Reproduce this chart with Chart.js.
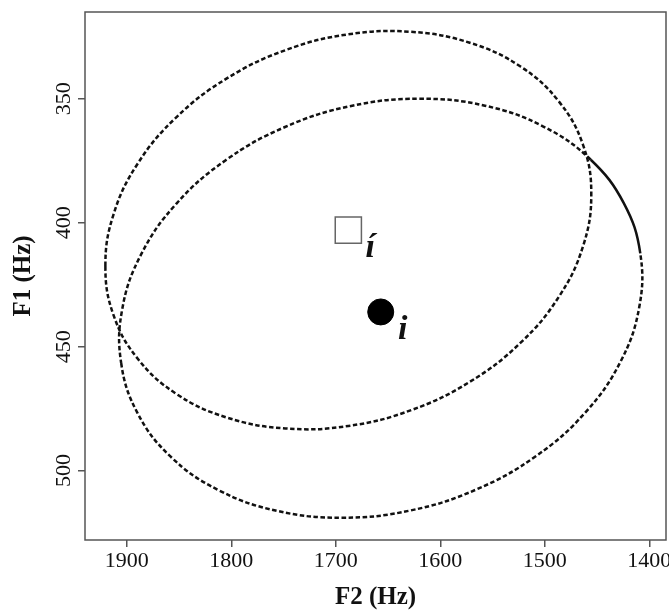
<!DOCTYPE html>
<html>
<head>
<meta charset="utf-8">
<script src="https://cdn.jsdelivr.net/npm/chart.js@4"></script>
<style>
  body { margin: 0; background: #fff; }
</style>
</head>
<body>
<canvas id="c" width="669" height="610"></canvas>
<script>
// axis ticks
const xTicks = [1900, 1800, 1700, 1600, 1500, 1400]
const yTicks = [350, 400, 450, 500]

// vowel means (F2, F1) and their labels
const meanF2 = [1688, 1657]
const meanF1 = [403, 436]
const meanLabels = ['í', 'i']

// ellipse around í (open square).
// first and last points repeat the neighbours of the seam so the curve closes smoothly
const ellAF2 = [1912.6, 1920.5, 1912.6, 1889.3, 1852.4, 1804.3, 1748.2, 1688, 1627.8, 1571.8, 1523.6, 1486.7, 1463.4,
  1455.5, 1463.4, 1486.7, 1523.6, 1571.8, 1627.8, 1688, 1748.2, 1804.3, 1852.4, 1889.3, 1912.6, 1920.5, 1912.6]
const ellAF1 = [396.5, 417.5, 437.4, 455.0, 469.1, 478.6, 483.0, 482.0, 475.6, 464.2, 448.6, 430.0, 409.5,
  388.5, 368.6, 351.0, 336.9, 327.4, 323.0, 324.0, 330.4, 341.8, 357.4, 376.0, 396.5, 417.5, 437.4]

// ellipse around i (filled circle), same layout
const ellBF2 = [1904.3, 1905.4, 1889.6, 1858.0, 1812.6, 1756.7, 1694.0, 1628.7, 1565.4, 1508.3, 1461.3, 1427.7, 1409.7,
  1408.6, 1424.4, 1456.0, 1501.4, 1557.3, 1620.0, 1685.3, 1748.6, 1805.7, 1852.7, 1886.3, 1904.3, 1905.4, 1889.6]
const ellBF1 = [434.7, 456.6, 476.9, 494.4, 507.8, 516.2, 519.0, 516.1, 507.6, 494.1, 476.6, 456.2, 434.3,
  412.4, 392.1, 374.6, 361.2, 352.8, 350.0, 352.9, 361.4, 374.9, 392.4, 412.8, 434.7, 456.6, 476.9]

const pts = (xs, ys) => xs.map((x, i) => ({ x, y: ys[i] }))
const SERIF = '"Liberation Serif", "Times New Roman", serif'
const DASH = [4.5, 2.5]
const INK = '#111'

// hide the two helper segments at the seam
const seamColor = ctx => (ctx.p0DataIndex === 0 || ctx.p1DataIndex === ctx.chart.data.datasets[ctx.datasetIndex].data.length - 1
  ? 'rgba(0,0,0,0)' : undefined)

const frame = {
  id: 'frame',
  afterDraw(chart) {
    const { ctx, chartArea: a, scales } = chart
    ctx.save()
    ctx.strokeStyle = '#555'
    ctx.lineWidth = 1.5
    ctx.strokeRect(a.left, a.top, a.right - a.left, a.bottom - a.top)

    ctx.fillStyle = INK
    ctx.font = '22px ' + SERIF
    ctx.textAlign = 'center'

    // x tick labels
    ctx.textBaseline = 'alphabetic'
    xTicks.forEach(v => ctx.fillText(String(v), scales.x.getPixelForValue(v), 567))

    // y tick labels, rotated
    ctx.textBaseline = 'middle'
    yTicks.forEach(v => {
      ctx.save()
      ctx.translate(64, scales.y.getPixelForValue(v))
      ctx.rotate(-Math.PI / 2)
      ctx.fillText(String(v), 0, 0)
      ctx.restore()
    })

    // axis titles
    ctx.font = 'bold 25px ' + SERIF
    ctx.textBaseline = 'alphabetic'
    ctx.fillText('F2 (Hz)', (a.left + a.right) / 2, 604)
    ctx.save()
    ctx.translate(30, (a.top + a.bottom) / 2)
    ctx.rotate(-Math.PI / 2)
    ctx.fillText('F1 (Hz)', 0, 0)
    ctx.restore()

    // vowel labels next to the means
    ctx.font = 'italic bold 34px ' + SERIF
    meanLabels.forEach((t, i) => {
      const px = scales.x.getPixelForValue(meanF2[i])
      const py = scales.y.getPixelForValue(meanF1[i])
      ctx.fillText(t, px + 22, py + 27)
    })
    ctx.restore()
  }
}

new Chart(document.getElementById('c'), {
  type: 'scatter',
  data: {
    datasets: [
      {
        data: pts(ellAF2, ellAF1), showLine: true, tension: 0.4, pointRadius: 0,
        borderColor: INK, borderWidth: 2.5, borderDash: DASH,
        segment: { borderColor: seamColor }
      },
      {
        data: pts(ellBF2, ellBF1), showLine: true, tension: 0.4, pointRadius: 0,
        borderColor: INK, borderWidth: 2.5, borderDash: DASH,
        // the stretch right of the crossing is drawn solid in the original
        segment: {
          borderColor: seamColor,
          borderDash: ctx => (ctx.p0DataIndex >= 13 && ctx.p0DataIndex < 15 ? [] : undefined)
        }
      },
      {
        data: pts(meanF2, meanF1), showLine: false,
        pointStyle: ['rect', 'circle'], pointRadius: [18.5, 13],
        backgroundColor: ['#fff', '#000'], borderColor: ['#666', '#000'], borderWidth: [1.5, 1]
      }
    ]
  },
  options: {
    responsive: false,
    animation: false,
    events: [],
    layout: { autoPadding: false, padding: { top: 12, right: 3, left: 0, bottom: 0 } },
    plugins: { legend: { display: false }, tooltip: { enabled: false } },
    scales: {
      x: {
        type: 'linear', reverse: true, min: 1384, max: 1940,
        afterBuildTicks: s => { s.ticks = xTicks.map(v => ({ value: v })) },
        afterFit: s => { s.height = 70 },
        border: { display: false },
        grid: { drawOnChartArea: false, drawTicks: true, tickLength: 7, color: '#555', lineWidth: 1.5 },
        ticks: { display: false }
      },
      y: {
        type: 'linear', reverse: true, min: 315, max: 528,
        afterBuildTicks: s => { s.ticks = yTicks.map(v => ({ value: v })) },
        afterFit: s => { s.width = 85 },
        border: { display: false },
        grid: { drawOnChartArea: false, drawTicks: true, tickLength: 7, color: '#555', lineWidth: 1.5 },
        ticks: { display: false }
      }
    }
  },
  plugins: [frame]
})
</script>
</body>
</html>
